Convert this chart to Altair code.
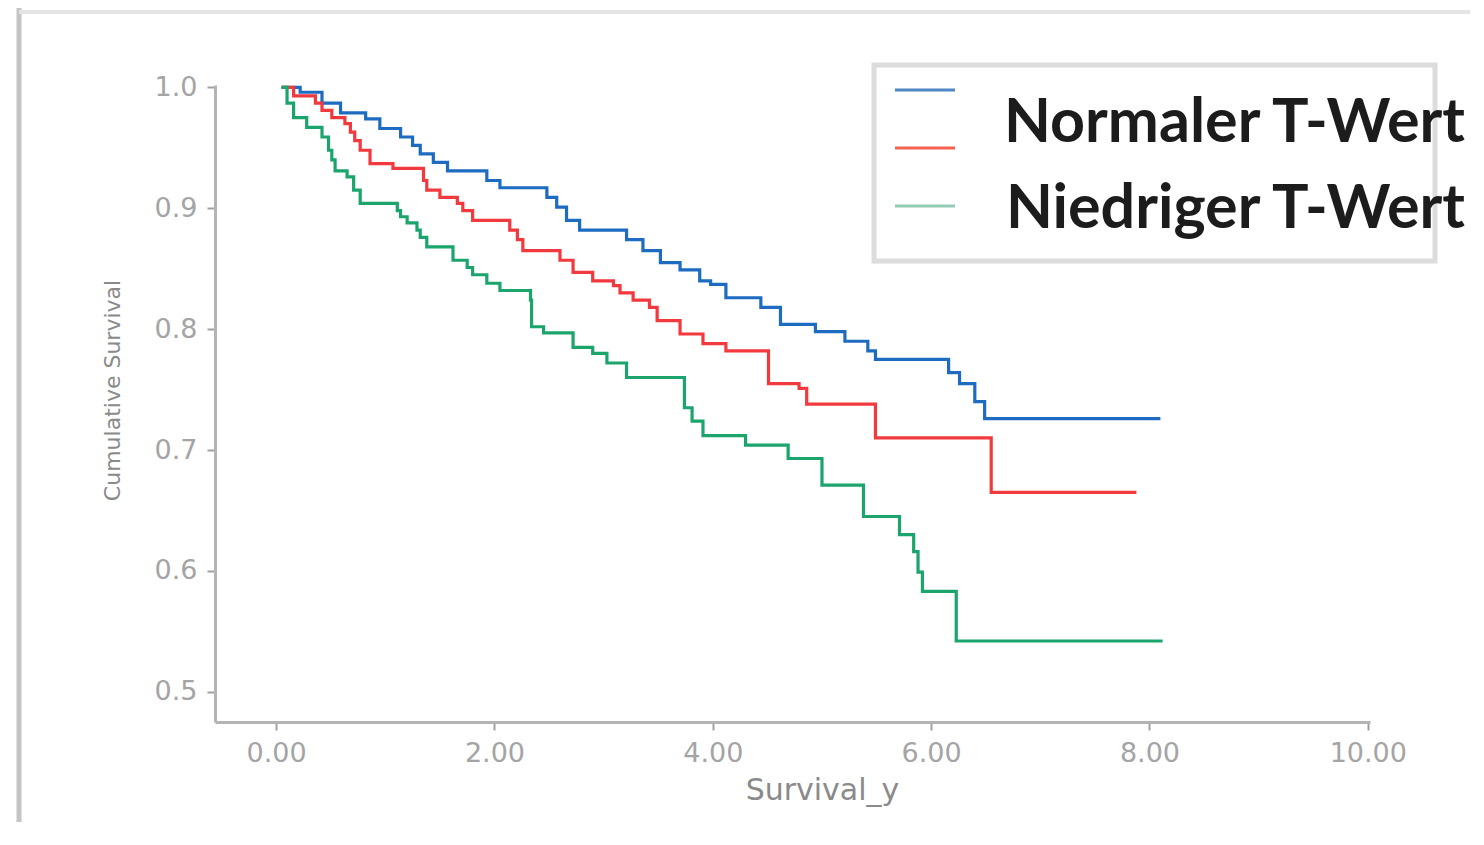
import altair as alt
import pandas as pd

# ---- data (time in years, cumulative survival) ----
blue_t = [0.05, 0.22, 0.42, 0.59, 0.82, 0.95, 1.14, 1.25, 1.32, 1.44, 1.57, 1.93, 2.05, 2.48, 2.57,
          2.66, 2.78, 3.21, 3.36, 3.52, 3.70, 3.88, 3.98, 4.12, 4.44, 4.62, 4.94, 5.21, 5.42, 5.49,
          6.16, 6.26, 6.40, 6.49, 8.10]
blue_s = [1.000, 0.996, 0.987, 0.979, 0.974, 0.966, 0.959, 0.952, 0.945, 0.938, 0.931, 0.923, 0.917, 0.909, 0.901,
          0.890, 0.882, 0.874, 0.865, 0.855, 0.849, 0.840, 0.837, 0.826, 0.818, 0.804, 0.798, 0.790, 0.782, 0.775,
          0.764, 0.755, 0.740, 0.726, 0.726]

red_t = [0.05, 0.16, 0.36, 0.42, 0.51, 0.63, 0.68, 0.72, 0.77, 0.86, 1.07, 1.35, 1.38, 1.50, 1.66, 1.71,
         1.80, 2.14, 2.21, 2.26, 2.60, 2.72, 2.90, 3.09, 3.15, 3.27, 3.42, 3.49, 3.70, 3.91, 4.12, 4.51,
         4.79, 4.86, 5.49, 6.55, 7.88]
red_s = [1.000, 0.993, 0.987, 0.981, 0.975, 0.970, 0.963, 0.956, 0.948, 0.937, 0.933, 0.923, 0.915, 0.909, 0.904, 0.898,
         0.890, 0.882, 0.874, 0.865, 0.857, 0.847, 0.840, 0.836, 0.830, 0.824, 0.818, 0.807, 0.796, 0.788, 0.782, 0.755,
         0.751, 0.738, 0.710, 0.665, 0.665]

green_t = [0.05, 0.10, 0.16, 0.28, 0.42, 0.48, 0.51, 0.54, 0.65, 0.71, 0.77, 1.11, 1.14, 1.20, 1.29, 1.32,
           1.38, 1.62, 1.75, 1.80, 1.93, 2.05, 2.33, 2.34, 2.45, 2.72, 2.90, 3.03, 3.21, 3.74, 3.81, 3.91,
           4.30, 4.69, 5.00, 5.38, 5.71, 5.84, 5.88, 5.92, 6.23, 8.12]
green_s = [1.000, 0.987, 0.975, 0.967, 0.959, 0.948, 0.940, 0.931, 0.926, 0.915, 0.904, 0.898, 0.893, 0.888, 0.882, 0.876,
           0.868, 0.857, 0.851, 0.845, 0.838, 0.832, 0.824, 0.802, 0.797, 0.785, 0.780, 0.772, 0.760, 0.735, 0.724, 0.712,
           0.704, 0.693, 0.671, 0.645, 0.630, 0.616, 0.599, 0.583, 0.542, 0.542]

series_names = ["Gruppe 1", "Gruppe 2", "Gruppe 3"]
series_colors = ["#1d6cc2", "#f2393d", "#1ba56c"]
legend_line_colors = ["#4d88c4", "#f2624f", "#93ccb4"]
legend_texts = ["Normaler T-Wert", "Niedriger T-Wert"]

x_ticks = [0, 2, 4, 6, 8, 10]
y_ticks = [0.5, 0.6, 0.7, 0.8, 0.9, 1.0]

rows = []
for name, ts, ss in zip(series_names, [blue_t, red_t, green_t], [blue_s, red_s, green_s]):
    for t, s in zip(ts, ss):
        rows.append({"Gruppe": name, "Survival_y": t, "Survival": s})
df = pd.DataFrame(rows)

W, H = 1155, 637

xscale = alt.Scale(domain=[-0.56, 10.02], nice=False, zero=False)
yscale = alt.Scale(domain=[0.475, 1.002], nice=False, zero=False)

lines = alt.Chart(df).mark_line(interpolate="step-after", strokeWidth=3.2).encode(
    x=alt.X("Survival_y:Q", scale=xscale,
            axis=alt.Axis(values=x_ticks, format=".2f", title="Survival_y",
                          titleX=607, titleY=68, titleBaseline="middle")),
    y=alt.Y("Survival:Q", scale=yscale,
            axis=alt.Axis(values=y_ticks, format=".1f", title="Cumulative Survival",
                          titleX=-103, titleY=305, titleAngle=270, titleBaseline="middle",
                          titleAlign="center")),
    color=alt.Color("Gruppe:N", scale=alt.Scale(domain=series_names, range=series_colors), legend=None),
    detail="Gruppe:N",
)

one = alt.Data(values=[{"k": 0}])

# frame lines of the slide
frame_v = alt.Chart(one).mark_rule(color="#c4c4c4", strokeWidth=5).encode(
    x=alt.value(-196), y=alt.value(-80), y2=alt.value(H + 100))
frame_h = alt.Chart(one).mark_rule(color="#e4e4e4", strokeWidth=4).encode(
    x=alt.value(-196), x2=alt.value(W + 100), y=alt.value(-73))

legend_box = alt.Chart(one).mark_rect(fill="white", stroke="#dcdcdc", strokeWidth=5).encode(
    x=alt.value(659), x2=alt.value(1220), y=alt.value(-20), y2=alt.value(176))

legend_layers = []
for i, c in enumerate(legend_line_colors):
    yy = 5 + i * 58
    legend_layers.append(
        alt.Chart(one).mark_rule(color=c, strokeWidth=3).encode(
            x=alt.value(680), x2=alt.value(740), y=alt.value(yy)))

text_y = [57, 143]
for lab, ty in zip(legend_texts, text_y):
    legend_layers.append(
        alt.Chart(one).mark_text(text=lab, font="Comic Sans MS, Lato", fontWeight="bold", fontSize=61,
                                 color="#1c1c1c", align="right", baseline="alphabetic").encode(
            x=alt.value(1250), y=alt.value(ty)))

chart = alt.layer(frame_v, frame_h, lines, legend_box, *legend_layers).properties(
    width=W, height=H,
    autosize=alt.AutoSizeParams(type="none"),
    padding={"left": 207, "top": 77, "right": 100, "bottom": 100},
    background="white",
).configure_view(stroke=None).configure_axis(
    grid=False,
    domainColor="#b4b4b4",
    domainWidth=3,
    tickColor="#a0a0a0",
    tickWidth=2,
    tickSize=8,
    labelFont="DejaVu Sans",
    labelFontSize=27,
    labelColor="#a4a4a4",
    labelPadding=10,
    titleFont="DejaVu Sans",
    titleFontWeight="normal",
    titleColor="#8a8a8a",
).configure_axisX(titleFontSize=30).configure_axisY(titleFontSize=22)

chart.save("out.html", embed_options={"renderer": "svg", "actions": False})
